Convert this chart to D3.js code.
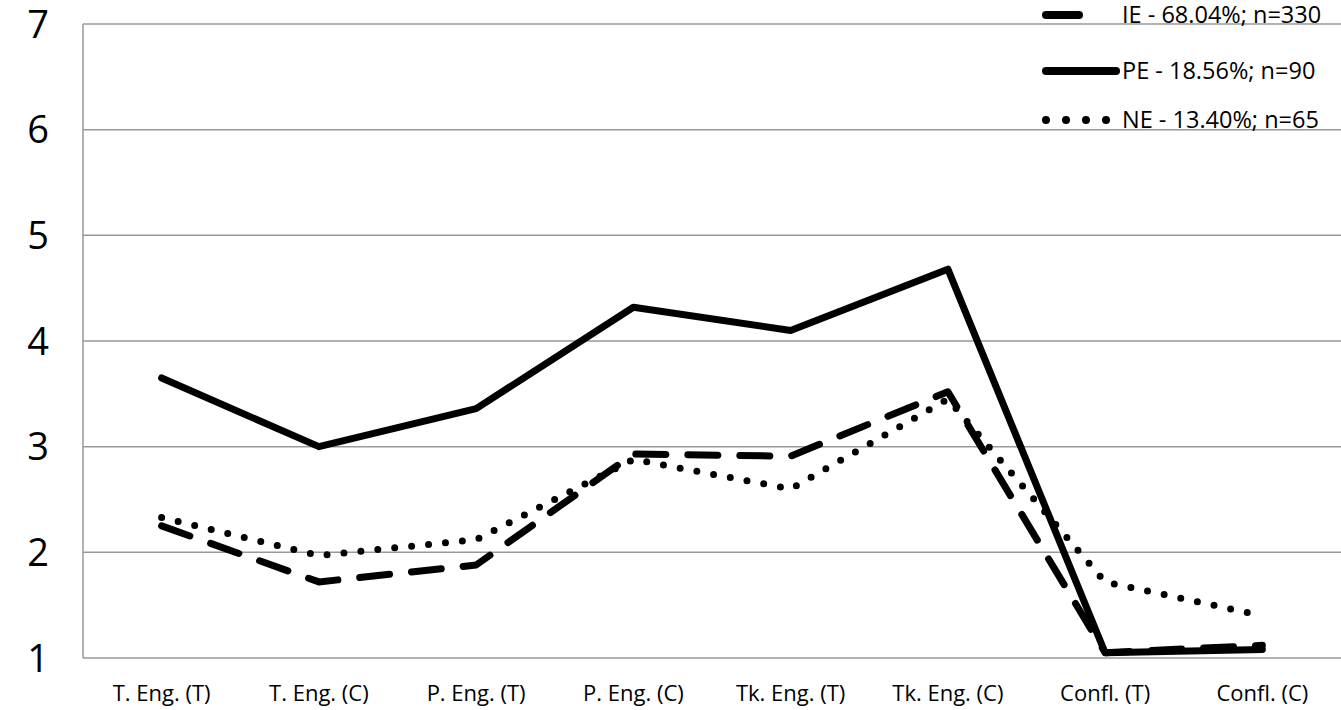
<!DOCTYPE html>
<html><head><meta charset="utf-8">
<script src="https://cdn.jsdelivr.net/npm/d3@7"></script>
<style>body{margin:0;background:#fff}text{font-family:"Open Sans",sans-serif}</style>
</head><body><div id="chart"></div>
<script>
var categories = ["T. Eng. (T)", "T. Eng. (C)", "P. Eng. (T)", "P. Eng. (C)", "Tk. Eng. (T)", "Tk. Eng. (C)", "Confl. (T)", "Confl. (C)"];
var ieValues = [2.25, 1.72, 1.88, 2.93, 2.91, 3.52, 1.05, 1.12];
var peValues = [3.65, 3.00, 3.36, 4.32, 4.10, 4.68, 1.05, 1.08];
var neValues = [2.33, 1.97, 2.12, 2.88, 2.60, 3.45, 1.72, 1.40];
var yTicks = [1, 2, 3, 4, 5, 6, 7];
var seriesNames = ["IE - 68.04%; n=330", "PE - 18.56%; n=90", "NE - 13.40%; n=65"];

var svgWidth = 1341, svgHeight = 710;
var margin = {top: 24, right: 0, bottom: 52, left: 83};
var width = svgWidth - margin.left - margin.right;
var height = svgHeight - margin.top - margin.bottom;

var svg = d3.select("#chart").append("svg")
    .attr("width", svgWidth).attr("height", svgHeight);
var g = svg.append("g").attr("transform", `translate(${margin.left}, ${margin.top})`);

var x = d3.scalePoint().domain(categories).range([0, width]).padding(0.5);
var y = d3.scaleLinear().domain([1, 7]).range([height, 0]);

// gridlines
g.selectAll(".grid").data(yTicks).enter().append("line")
    .attr("x1", 0).attr("x2", width)
    .attr("y1", d => y(d)).attr("y2", d => y(d))
    .attr("stroke", "#999").attr("stroke-width", 1.5);
g.append("line").attr("x1", 0).attr("x2", 0).attr("y1", 0).attr("y2", height)
    .attr("stroke", "#999").attr("stroke-width", 1.5);

g.selectAll(".ytick").data(yTicks).enter().append("text")
    .attr("x", -45).attr("y", d => y(d)).attr("dy", "0.36em")
    .attr("text-anchor", "middle").attr("font-size", 38).text(d => d);

g.selectAll(".xtick").data(categories).enter().append("text")
    .attr("x", d => x(d)).attr("y", height + 43)
    .attr("text-anchor", "middle").attr("font-size", 22).text(d => d);

var line = d3.line().x((d, i) => x(categories[i])).y(d => y(d));
var styles = [
    {data: ieValues, dash: "30 22"},
    {data: peValues, dash: null},
    {data: neValues, dash: "0 17"}
];
styles.forEach(function(s) {
    g.append("path").attr("d", line(s.data))
        .attr("fill", "none").attr("stroke", "#000").attr("stroke-width", 7)
        .attr("stroke-linejoin", "round").attr("stroke-linecap", "round")
        .attr("stroke-dasharray", s.dash);
});

// legend
var legend = [
    {y: 15, x2: 1079, dash: null},
    {y: 71, x2: 1116, dash: null},
    {y: 120, x2: 1110, dash: "0 20"}
];
legend.forEach(function(l, i) {
    svg.append("line").attr("x1", 1046).attr("x2", l.x2).attr("y1", l.y).attr("y2", l.y)
        .attr("stroke", "#000").attr("stroke-width", 8).attr("stroke-linecap", "round")
        .attr("stroke-dasharray", l.dash);
    svg.append("text").attr("x", 1122).attr("y", l.y).attr("dy", "0.36em")
        .attr("font-size", 23.5).text(seriesNames[i]);
});
</script></body></html>
